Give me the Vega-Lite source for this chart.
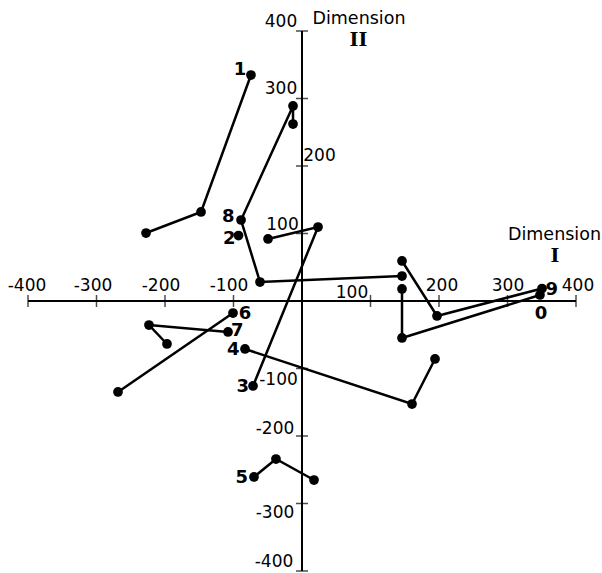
{
  "$schema": "https://vega.github.io/schema/vega-lite/v6.json",
  "width": 548,
  "height": 540,
  "autosize": {"type": "none"},
  "padding": {"left": 28, "top": 31, "right": 26, "bottom": 2},
  "background": "white",
  "config": {"view": {"stroke": null}},
  "datasets": {
    "points": [
      {"path": "1", "order": 1, "x": -74.5, "y": 334.8},
      {"path": "1", "order": 2, "x": -147.4, "y": 131.9},
      {"path": "1", "order": 3, "x": -227.7, "y": 100.7},
      {"path": "8", "order": 1, "x": 146, "y": 37},
      {"path": "8", "order": 2, "x": -61.3, "y": 28.1},
      {"path": "8", "order": 3, "x": -89, "y": 120},
      {"path": "8", "order": 4, "x": -13.1, "y": 288.9},
      {"path": "8", "order": 5, "x": -13.1, "y": 262.2},
      {"path": "2", "order": 1, "x": -92.7, "y": 97},
      {"path": "3", "order": 1, "x": -71.5, "y": -125.9},
      {"path": "3", "order": 2, "x": 23.4, "y": 109.6},
      {"path": "3", "order": 3, "x": -49.6, "y": 91.9},
      {"path": "4", "order": 1, "x": -83.2, "y": -71.1},
      {"path": "4", "order": 2, "x": 160.6, "y": -152.6},
      {"path": "4", "order": 3, "x": 194.2, "y": -85.9},
      {"path": "5", "order": 1, "x": -70.1, "y": -260.7},
      {"path": "5", "order": 2, "x": -38, "y": -234.1},
      {"path": "5", "order": 3, "x": 17.5, "y": -265.2},
      {"path": "6", "order": 1, "x": -100.7, "y": -17.8},
      {"path": "6", "order": 2, "x": -268.6, "y": -134.8},
      {"path": "7", "order": 1, "x": -108, "y": -45.9},
      {"path": "7", "order": 2, "x": -223.4, "y": -35.6},
      {"path": "7", "order": 3, "x": -197.1, "y": -63.7},
      {"path": "9", "order": 1, "x": 350.4, "y": 18.5},
      {"path": "9", "order": 2, "x": 197.1, "y": -22.2},
      {"path": "9", "order": 3, "x": 146, "y": 59.3},
      {"path": "0", "order": 1, "x": 347.4, "y": 8.9},
      {"path": "0", "order": 2, "x": 146, "y": -54.8},
      {"path": "0", "order": 3, "x": 146, "y": 17.8}
    ],
    "axes": [
      {"x": -400, "x2": 400, "y": 0, "y2": 0},
      {"x": 0, "x2": 0, "y": -400, "y2": 400}
    ],
    "xticks": [
      {"x": -400, "y": 0}, {"x": -300, "y": 0}, {"x": -200, "y": 0}, {"x": -100, "y": 0},
      {"x": 100, "y": 0}, {"x": 200, "y": 0}, {"x": 300, "y": 0}, {"x": 400, "y": 0}
    ],
    "yticks": [
      {"x": 0, "y": 400}, {"x": 0, "y": 300}, {"x": 0, "y": 200}, {"x": 0, "y": 100},
      {"x": 0, "y": -100}, {"x": 0, "y": -200}, {"x": 0, "y": -300}, {"x": 0, "y": -400}
    ],
    "ticklabels": [
      {"t": "-400", "x": -401.5, "y": 22.2},
      {"t": "-300", "x": -305.1, "y": 22.2},
      {"t": "-200", "x": -205.8, "y": 22.2},
      {"t": "-100", "x": -106.6, "y": 22.2},
      {"t": "100", "x": 73, "y": 11.9},
      {"t": "200", "x": 204.4, "y": 22.2},
      {"t": "300", "x": 300.7, "y": 22.2},
      {"t": "400", "x": 402.9, "y": 22.2},
      {"t": "400", "x": -30.7, "y": 412.6},
      {"t": "300", "x": -30.7, "y": 314.8},
      {"t": "200", "x": 25.5, "y": 214.1},
      {"t": "100", "x": -28.5, "y": 112.6},
      {"t": "-100", "x": -34.3, "y": -117},
      {"t": "-200", "x": -39.4, "y": -188.9},
      {"t": "-300", "x": -39.4, "y": -314.8},
      {"t": "-400", "x": -40.9, "y": -387.4}
    ],
    "pathlabels": [
      {"t": "1", "x": -90.5, "y": 342.2},
      {"t": "8", "x": -107.6, "y": 124.9},
      {"t": "2", "x": -106.1, "y": 91.4},
      {"t": "3", "x": -86.6, "y": -127.9},
      {"t": "4", "x": -100.3, "y": -72.6},
      {"t": "5", "x": -88, "y": -262.7},
      {"t": "6", "x": -83.2, "y": -19.3},
      {"t": "7", "x": -94.5, "y": -44},
      {"t": "9", "x": 364.5, "y": 16.3},
      {"t": "0", "x": 348.9, "y": -19.3}
    ],
    "titles": [
      {"t": "Dimension", "x": 83.2, "y": 418.5},
      {"t": "Dimension", "x": 368.6, "y": 97.8}
    ],
    "numerals": [
      {"t": "II", "x": 82.5, "y": 386.7},
      {"t": "I", "x": 369.3, "y": 66.7}
    ]
  },
  "encoding": {
    "x": {"field": "x", "type": "quantitative", "scale": {"domain": [-400, 400], "nice": false, "zero": false}, "axis": null},
    "y": {"field": "y", "type": "quantitative", "scale": {"domain": [-400, 400], "nice": false, "zero": false}, "axis": null}
  },
  "layer": [
    {
      "data": {"name": "axes"},
      "mark": {"type": "rule", "color": "black", "strokeWidth": 2},
      "encoding": {"x2": {"field": "x2"}, "y2": {"field": "y2"}}
    },
    {
      "data": {"name": "xticks"},
      "mark": {"type": "tick", "orient": "vertical", "color": "black", "size": 12, "thickness": 1.5}
    },
    {
      "data": {"name": "yticks"},
      "mark": {"type": "tick", "orient": "horizontal", "color": "black", "size": 12, "thickness": 1.5}
    },
    {
      "data": {"name": "points"},
      "mark": {"type": "line", "color": "black", "strokeWidth": 2.5},
      "encoding": {
        "detail": {"field": "path"},
        "order": {"field": "order", "type": "quantitative"}
      }
    },
    {
      "data": {"name": "points"},
      "mark": {"type": "circle", "color": "black", "opacity": 1, "size": 95}
    },
    {
      "data": {"name": "ticklabels"},
      "mark": {"type": "text", "font": "DejaVu Sans", "fontSize": 17, "align": "center", "baseline": "middle", "color": "black"},
      "encoding": {"text": {"field": "t"}}
    },
    {
      "data": {"name": "pathlabels"},
      "mark": {"type": "text", "font": "DejaVu Sans", "fontWeight": "bold", "fontSize": 18, "align": "center", "baseline": "middle", "color": "black"},
      "encoding": {"text": {"field": "t"}}
    },
    {
      "data": {"name": "titles"},
      "mark": {"type": "text", "font": "DejaVu Sans", "fontSize": 17.5, "align": "center", "baseline": "middle", "color": "black"},
      "encoding": {"text": {"field": "t"}}
    },
    {
      "data": {"name": "numerals"},
      "mark": {"type": "text", "font": "DejaVu Serif", "fontWeight": "bold", "fontSize": 19, "align": "center", "baseline": "middle", "color": "black", "letterSpacing": -1},
      "encoding": {"text": {"field": "t"}}
    }
  ]
}
